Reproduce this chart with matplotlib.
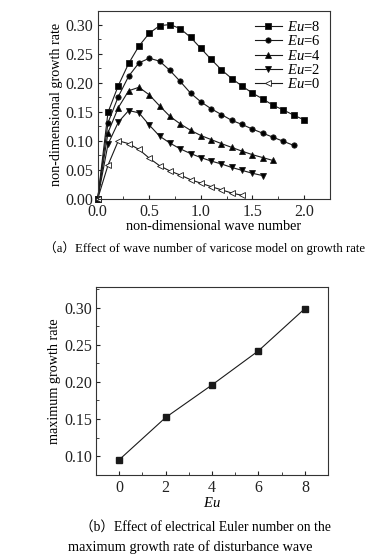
import numpy as np
import matplotlib
matplotlib.use("Agg")
import matplotlib.pyplot as plt
from matplotlib.ticker import MultipleLocator, FormatStrFormatter

plt.rcParams['font.family'] = ['Liberation Serif', 'Noto Sans CJK SC']
plt.rcParams['mathtext.fontset'] = 'custom'
plt.rcParams['mathtext.rm'] = 'Liberation Serif'
plt.rcParams['mathtext.it'] = 'Liberation Serif:italic'

# (a) growth rate vs wave number
wave_number = [0.0, 0.1, 0.2, 0.3, 0.4, 0.5, 0.6, 0.7, 0.8, 0.9, 1.0,
               1.1, 1.2, 1.3, 1.4, 1.5, 1.6, 1.7, 1.8, 1.9, 2.0]
rate_eu8 = [0.0, 0.149, 0.195, 0.233, 0.263, 0.285, 0.298, 0.300, 0.293, 0.278, 0.259,
            0.240, 0.222, 0.207, 0.194, 0.182, 0.172, 0.161, 0.153, 0.144, 0.136]
rate_eu6 = [0.0, 0.131, 0.176, 0.211, 0.234, 0.242, 0.237, 0.221, 0.202, 0.182, 0.167,
            0.155, 0.145, 0.135, 0.128, 0.120, 0.113, 0.106, 0.099, 0.092]
rate_eu4 = [0.0, 0.114, 0.157, 0.186, 0.192, 0.179, 0.160, 0.142, 0.129, 0.118, 0.109,
            0.102, 0.095, 0.0885, 0.082, 0.076, 0.071, 0.066]
rate_eu2 = [0.0, 0.094, 0.132, 0.152, 0.148, 0.127, 0.108, 0.096, 0.086, 0.078, 0.071,
            0.065, 0.060, 0.054, 0.049, 0.044, 0.040]
rate_eu0 = [0.0, 0.058, 0.100, 0.095, 0.085, 0.070, 0.057, 0.048, 0.041, 0.033, 0.027,
            0.021, 0.0155, 0.010, 0.006]

series = [("8", rate_eu8, 's', 'k'),
          ("6", rate_eu6, 'o', 'k'),
          ("4", rate_eu4, '^', 'k'),
          ("2", rate_eu2, 'v', 'k'),
          ("0", rate_eu0, '<', 'white')]

# (b) maximum growth rate vs Eu
eu_values = [0, 2, 4, 6, 8]
max_rate = [0.095, 0.152, 0.196, 0.242, 0.299]

fig = plt.figure(figsize=(3.75, 5.57), dpi=100)

ax1 = fig.add_axes([0.2605, 0.643, 0.619, 0.338])
for eu, vals, mk, face in series:
    ax1.plot(wave_number[:len(vals)], vals, color='#1a1a1a', lw=0.8,
             marker=mk, ms=3.8, mfc=face, mec='#1a1a1a', mew=0.6,
             label=r'$\mathit{Eu}$=' + eu, clip_on=False)
ax1.set_xlim(0, 2.25)
ax1.set_ylim(0, 0.324)
ax1.xaxis.set_major_locator(MultipleLocator(0.5))
ax1.xaxis.set_minor_locator(MultipleLocator(0.25))
ax1.yaxis.set_major_locator(MultipleLocator(0.05))
ax1.yaxis.set_minor_locator(MultipleLocator(0.025))
ax1.xaxis.set_major_formatter(FormatStrFormatter('%.1f'))
ax1.yaxis.set_major_formatter(FormatStrFormatter('%.2f'))
ax1.set_xlabel('non-dimensional wave number', fontsize=10.2, labelpad=0)
ax1.set_ylabel('non-dimensional growth rate', fontsize=10.2, labelpad=2)
ax1.legend(loc='upper right', frameon=False, fontsize=10.5, handlelength=1.9,
           handletextpad=0.3, labelspacing=0.02, borderaxespad=0.25)

ax2 = fig.add_axes([0.256, 0.148, 0.619, 0.336])
ax2.plot(eu_values, max_rate, color='#1a1a1a', lw=0.8, marker='s', ms=3.8,
         mfc='#1a1a1a', mec='#1a1a1a')
ax2.set_xlim(-1, 9)
ax2.set_ylim(0.075, 0.3275)
ax2.xaxis.set_major_locator(MultipleLocator(2))
ax2.xaxis.set_minor_locator(MultipleLocator(1))
ax2.yaxis.set_major_locator(MultipleLocator(0.05))
ax2.yaxis.set_minor_locator(MultipleLocator(0.025))
ax2.yaxis.set_major_formatter(FormatStrFormatter('%.2f'))
ax2.set_xlabel(r'$\mathit{Eu}$', fontsize=10.5, labelpad=0)
ax2.set_ylabel('maximum growth rate', fontsize=10.2, labelpad=2)

for ax in (ax1, ax2):
    ax.tick_params(which='both', direction='in', labelsize=11.5,
                   top=False, right=False, colors='#222222')
    ax.tick_params(axis='x', pad=4)
    ax.tick_params(axis='y', pad=3)
    ax.tick_params(which='major', length=3)
    ax.tick_params(which='minor', length=2)
    for sp in ax.spines.values():
        sp.set_linewidth(0.8)
        sp.set_color('#333333')

fig.text(0.545, 1 - 248 / 557, '（a）Effect of wave number of varicose model on growth rate',
         ha='center', va='center', fontsize=9.2)
fig.text(0.548, 1 - 527 / 557, '（b）Effect of electrical Euler number on the',
         ha='center', va='center', fontsize=9.8)
fig.text(0.507, 1 - 547 / 557, 'maximum growth rate of disturbance wave',
         ha='center', va='center', fontsize=10.3)

fig.savefig('out.png', dpi=100)
